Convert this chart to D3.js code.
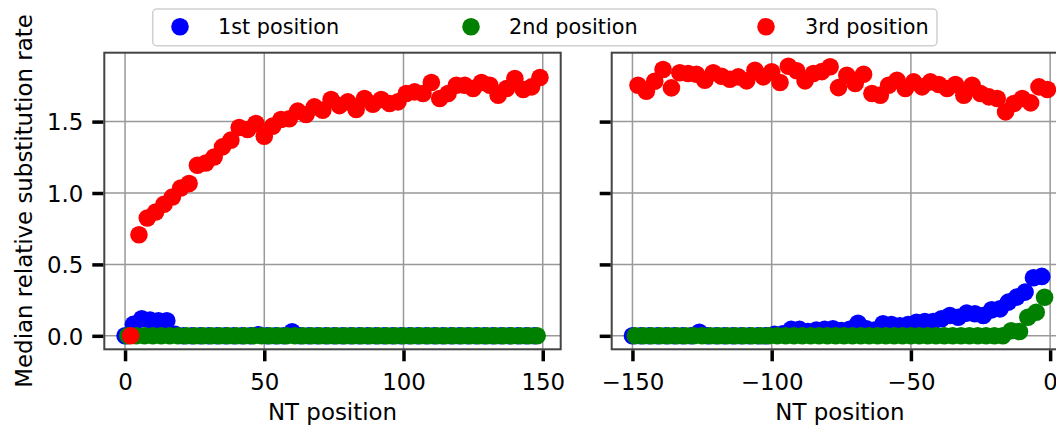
<!DOCTYPE html>
<html>
<head>
<meta charset="utf-8">
<script src="https://cdn.jsdelivr.net/npm/d3@7"></script>
<style>
  html, body { margin: 0; padding: 0; background: #fff; }
  svg { display: block; font-family: "DejaVu Sans", sans-serif; }
</style>
</head>
<body>
<svg id="chart" width="1056" height="430"></svg>
<script>
// Nucleotide positions relative to the start codon (left) and the stop codon (right)
const ntStart1 = [0,3,6,9,12,15,18,21,24,27,30,33,36,39,42,45,48,51,54,57,60,63,66,69,72,75,78,81,84,87,90,93,96,99,102,105,108,111,114,117,120,123,126,129,132,135,138,141,144,147];
const ntStart2 = [1,4,7,10,13,16,19,22,25,28,31,34,37,40,43,46,49,52,55,58,61,64,67,70,73,76,79,82,85,88,91,94,97,100,103,106,109,112,115,118,121,124,127,130,133,136,139,142,145,148];
const ntStart3 = [2,5,8,11,14,17,20,23,26,29,32,35,38,41,44,47,50,53,56,59,62,65,68,71,74,77,80,83,86,89,92,95,98,101,104,107,110,113,116,119,122,125,128,131,134,137,140,143,146,149];
const ntStop1 = [-150,-147,-144,-141,-138,-135,-132,-129,-126,-123,-120,-117,-114,-111,-108,-105,-102,-99,-96,-93,-90,-87,-84,-81,-78,-75,-72,-69,-66,-63,-60,-57,-54,-51,-48,-45,-42,-39,-36,-33,-30,-27,-24,-21,-18,-15,-12,-9,-6,-3];
const ntStop2 = [-149,-146,-143,-140,-137,-134,-131,-128,-125,-122,-119,-116,-113,-110,-107,-104,-101,-98,-95,-92,-89,-86,-83,-80,-77,-74,-71,-68,-65,-62,-59,-56,-53,-50,-47,-44,-41,-38,-35,-32,-29,-26,-23,-20,-17,-14,-11,-8,-5,-2];
const ntStop3 = [-148,-145,-142,-139,-136,-133,-130,-127,-124,-121,-118,-115,-112,-109,-106,-103,-100,-97,-94,-91,-88,-85,-82,-79,-76,-73,-70,-67,-64,-61,-58,-55,-52,-49,-46,-43,-40,-37,-34,-31,-28,-25,-22,-19,-16,-13,-10,-7,-4,-1];

// Median relative substitution rate per codon position
const rateStart1 = [0,0.08,0.12,0.11,0.105,0.105,0.01,0,0,0, 0,0,0,0,0,0,0.008,0,0,0, 0.028,0,0,0,0,0,0,0,0,0, 0,0,0,0,0,0,0,0,0,0, 0,0,0,0,0,0,0,0,0,0];
const rateStart2 = [0,0,0,0,0,0,0,0,0,0, 0,0,0,0,0,0,0,0,0,0, 0,0,0,0,0,0,0,0,0,0, 0,0,0,0,0,0,0,0,0,0, 0,0,0,0,0,0,0,0,0,0];
const rateStart3 = [0,0.708,0.825,0.867,0.921,0.972,1.035,1.066,1.194,1.21,
                    1.252,1.323,1.37,1.459,1.445,1.487,1.398,1.468,1.515,1.52,
                    1.573,1.55,1.603,1.58,1.655,1.612,1.638,1.585,1.662,1.622,
                    1.655,1.627,1.638,1.697,1.708,1.697,1.774,1.662,1.697,1.755,
                    1.755,1.732,1.774,1.755,1.685,1.732,1.802,1.725,1.743,1.809];
const rateStop1 = [0,0,0,0,0,0,0,0,0.025,0,
                   0,0,0,0,0,0,0,0.01,0.015,0.045,
                   0.045,0.03,0.04,0.045,0.049,0.037,0.045,0.088,0.049,0.04,
                   0.084,0.079,0.07,0.079,0.095,0.1,0.1,0.12,0.142,0.13,
                   0.159,0.154,0.142,0.182,0.189,0.236,0.271,0.306,0.407,0.416];
const rateStop2 = [0,0,0,0,0,0,0,0,0,0, 0,0,0,0,0,0,0,0,0,0, 0,0,0,0,0,0,0,0,0,0, 0,0,0,0,0,0,0,0,0,0,
                   0,0,0,0,0,0.035,0.03,0.13,0.165,0.27];
const rateStop3 = [1.755,1.713,1.783,1.865,1.736,1.842,1.837,1.832,1.79,1.842,
                   1.818,1.797,1.813,1.785,1.86,1.813,1.849,1.774,1.888,1.856,
                   1.785,1.837,1.85,1.884,1.738,1.825,1.767,1.832,1.697,1.685,
                   1.755,1.79,1.732,1.778,1.743,1.778,1.76,1.732,1.76,1.685,
                   1.755,1.697,1.673,1.662,1.568,1.627,1.662,1.631,1.743,1.725];

const seriesNames = ["1st position", "2nd position", "3rd position"];
const seriesColors = ["#0000ff", "#008000", "#ff0000"];
const xTicksStart = [0, 50, 100, 150];
const xTicksStop = [-150, -100, -50, 0];
const yTicks = [0.0, 0.5, 1.0, 1.5];
const xLabel = "NT position";
const yLabel = "Median relative substitution rate";

const svg = d3.select("#chart");
const R = 8.8;
const fontTick = 22.9, fontLegend = 20.8;

// shared y scale with 5% padding around the data
const allRates = [].concat(rateStart1, rateStart2, rateStart3, rateStop1, rateStop2, rateStop3);
const [yMin, yMax] = d3.extent(allRates);
const yPad = (yMax - yMin) * 0.05;
const plotTop = 52.7, plotBottom = 349.3;
const y = d3.scaleLinear().domain([yMin - yPad, yMax + yPad]).range([plotBottom, plotTop]);

const panels = [
  { left: 104.3, right: 560.7, xs: [ntStart1, ntStart2, ntStart3], ys: [rateStart1, rateStart2, rateStart3], ticks: xTicksStart, yLabels: true },
  { left: 611.7, right: 1068.1, xs: [ntStop1, ntStop2, ntStop3], ys: [rateStop1, rateStop2, rateStop3], ticks: xTicksStop, yLabels: false }
];

const defs = svg.append("defs");

panels.forEach((p, pi) => {
  const allX = [].concat(...p.xs);
  const [xMin, xMax] = d3.extent(allX);
  const xPad = (xMax - xMin) * 0.05;
  const x = d3.scaleLinear().domain([xMin - xPad, xMax + xPad]).range([p.left, p.right]);

  const g = svg.append("g");
  const clipId = "clip" + pi;
  defs.append("clipPath").attr("id", clipId)
    .append("rect").attr("x", p.left).attr("y", plotTop)
    .attr("width", p.right - p.left).attr("height", plotBottom - plotTop);

  // grid
  g.append("g").selectAll("line").data(p.ticks).join("line")
    .attr("x1", d => x(d)).attr("x2", d => x(d))
    .attr("y1", plotTop).attr("y2", plotBottom)
    .attr("stroke", "#999").attr("stroke-width", 1.5);
  g.append("g").selectAll("line").data(yTicks).join("line")
    .attr("x1", p.left).attr("x2", p.right)
    .attr("y1", d => y(d)).attr("y2", d => y(d))
    .attr("stroke", "#999").attr("stroke-width", 1.5);

  // points: 1st, then 2nd, then 3rd codon position on top
  const pts = g.append("g").attr("clip-path", `url(#${clipId})`);
  p.xs.forEach((xsArr, si) => {
    const data = xsArr.map((v, i) => [v, p.ys[si][i]]);
    pts.append("g").selectAll("circle").data(data).join("circle")
      .attr("cx", d => x(d[0])).attr("cy", d => y(d[1]))
      .attr("r", R).attr("fill", seriesColors[si]);
  });

  // frame
  g.append("rect").attr("x", p.left).attr("y", plotTop)
    .attr("width", p.right - p.left).attr("height", plotBottom - plotTop)
    .attr("fill", "none").attr("stroke", "#444").attr("stroke-width", 2);

  // x axis ticks and labels
  const xAxis = d3.axisBottom(x).tickValues(p.ticks).tickSize(11).tickPadding(12).tickFormat(d3.format("d"));
  const xa = g.append("g").attr("transform", `translate(0,${plotBottom + 1})`).call(xAxis);
  xa.select(".domain").remove();
  xa.selectAll(".tick line").attr("stroke", "#000").attr("stroke-width", 3.5);
  xa.selectAll(".tick text").attr("font-size", fontTick).attr("font-family", "DejaVu Sans").attr("fill", "#000")
    .attr("dy", null).attr("y", 39.5);

  // y axis ticks (labels only on the left panel)
  const yAxis = d3.axisLeft(y).tickValues(yTicks).tickSize(11).tickPadding(9).tickFormat(p.yLabels ? d3.format(".1f") : () => "");
  const ya = g.append("g").attr("transform", `translate(${p.left - 1},0)`).call(yAxis);
  ya.select(".domain").remove();
  ya.selectAll(".tick line").attr("stroke", "#000").attr("stroke-width", 3.5);
  ya.selectAll(".tick text").attr("font-size", fontTick).attr("font-family", "DejaVu Sans").attr("fill", "#000")
    .attr("dy", null).attr("y", 8.3).attr("x", -20);

  // x label
  g.append("text").attr("x", (p.left + p.right) / 2).attr("y", 420)
    .attr("text-anchor", "middle").attr("font-size", fontTick).attr("fill", "#000")
    .text(xLabel);
});

// y label
svg.append("text")
  .attr("transform", `translate(32,${(plotTop + plotBottom) / 2}) rotate(-90)`)
  .attr("text-anchor", "middle").attr("font-size", fontTick).attr("fill", "#000")
  .text(yLabel);

// legend
const legend = svg.append("g");
legend.append("rect").attr("x", 152.7).attr("y", 9).attr("width", 784.3).attr("height", 36.7)
  .attr("rx", 4).attr("fill", "#fff").attr("stroke", "#d0d0d0").attr("stroke-width", 1.5);
const legMarkX = [180, 471, 766];
const legTextX = [218, 509, 805];
seriesNames.forEach((name, i) => {
  legend.append("circle").attr("cx", legMarkX[i]).attr("cy", 26.7).attr("r", R).attr("fill", seriesColors[i]);
  legend.append("text").attr("x", legTextX[i]).attr("y", 34.3).attr("font-size", fontLegend).attr("fill", "#000").text(name);
});
</script>
</body>
</html>
